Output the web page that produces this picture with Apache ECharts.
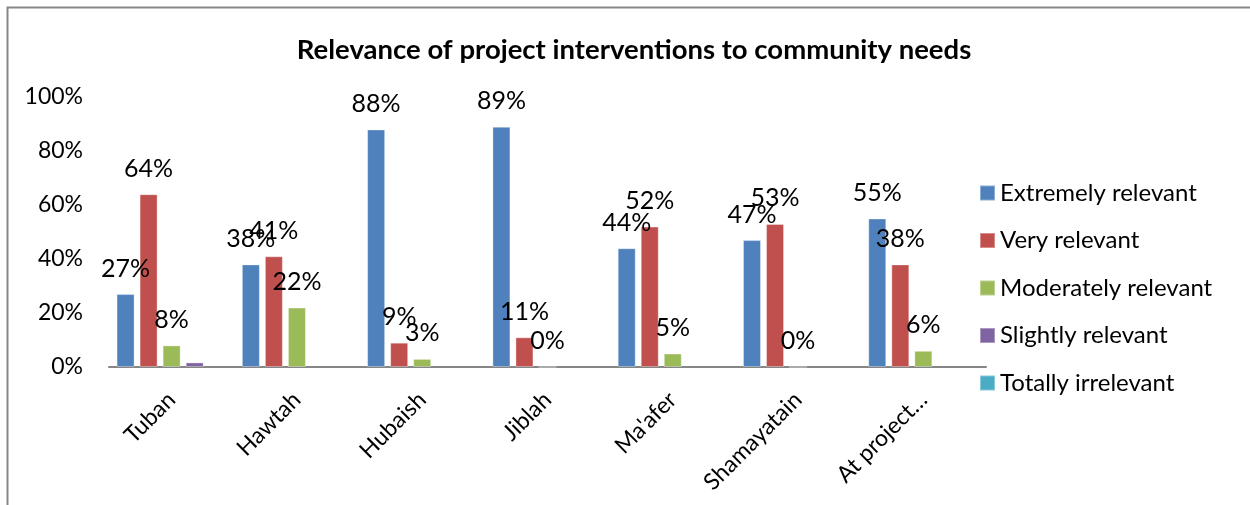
<!DOCTYPE html>
<html>
<head>
<meta charset="utf-8">
<script src="https://cdn.jsdelivr.net/npm/echarts@6/dist/echarts.min.js"></script>
<style>
html,body{margin:0;padding:0;background:#fff;}
#chart{width:1250px;height:505px;}
</style>
</head>
<body>
<div id="chart"></div>
<script>
const categories = ['Tuban', 'Hawtah', 'Hubaish', 'Jiblah', "Ma'afer", 'Shamayatain', 'At project…'];
const seriesNames = ['Extremely relevant', 'Very relevant', 'Moderately relevant', 'Slightly relevant', 'Totally irrelevant'];
const extremelyRelevant = [27, 38, 88, 89, 44, 47, 55];
const veryRelevant = [64, 41, 9, 11, 52, 53, 38];
const moderatelyRelevant = [8, 22, 3, 0, 5, 0, 6];
const slightlyRelevant = [1.7, null, null, null, null, null, null];
const totallyIrrelevant = [null, null, null, null, null, null, null];
const yTicks = [0, 20, 40, 60, 80, 100];
const titleText = 'Relevance of project interventions to community needs';

const colors = ['#4F81BD', '#C0504D', '#9BBB59', '#8064A2', '#4BACC6'];
const seriesData = [extremelyRelevant, veryRelevant, moderatelyRelevant, slightlyRelevant, totallyIrrelevant];
const showLabels = [true, true, true, false, false];
const FONT = 'Lato';

const chart = echarts.init(document.getElementById('chart'), null, {renderer: 'canvas'});
chart.setOption({
  animation: false,
  backgroundColor: '#fff',
  color: colors,
  title: {
    text: titleText,
    left: 629, top: 31, textAlign: 'center',
    textStyle: {fontFamily: FONT, fontWeight: 'bold', fontSize: 27.5, color: '#000'}
  },
  graphic: [{
    type: 'rect', silent: true,
    shape: {x: 7.5, y: 7.5, width: 1300, height: 600},
    style: {fill: 'none', stroke: '#878787', lineWidth: 2}
  }],
  legend: {
    orient: 'vertical', left: 979, top: 181, padding: 0,
    itemWidth: 15, itemHeight: 15, itemGap: 23.5,
    icon: 'rect',
    textStyle: {fontFamily: FONT, fontSize: 24, color: '#000'},
    data: seriesNames
  },
  grid: {left: 109, right: 264, top: 97, bottom: 138, containLabel: false},
  xAxis: {
    type: 'category', data: categories,
    axisTick: {show: false},
    axisLine: {lineStyle: {color: '#868686', width: 2}},
    axisLabel: {rotate: 45, margin: 29, interval: 0, fontFamily: FONT, fontSize: 23, color: '#000'}
  },
  yAxis: {
    type: 'value', min: yTicks[0], max: yTicks[yTicks.length - 1], interval: 20,
    axisLine: {show: false}, axisTick: {show: false}, splitLine: {show: false},
    axisLabel: {formatter: '{value}%', margin: 26, fontFamily: FONT, fontSize: 23, color: '#000'}
  },
  series: seriesNames.map((name, i) => ({
    name, type: 'bar', data: seriesData[i],
    barWidth: 18, barGap: '28%',
    itemStyle: {color: colors[i], borderColor: 'rgba(255,255,255,0.35)', borderWidth: 1},
    label: {
      show: showLabels[i], position: 'top', distance: 13,
      fontFamily: FONT, fontSize: 25, color: '#000',
      formatter: p => (p.value == null ? '' : Math.round(p.value) + '%')
    }
  }))
});
</script>
</body>
</html>
